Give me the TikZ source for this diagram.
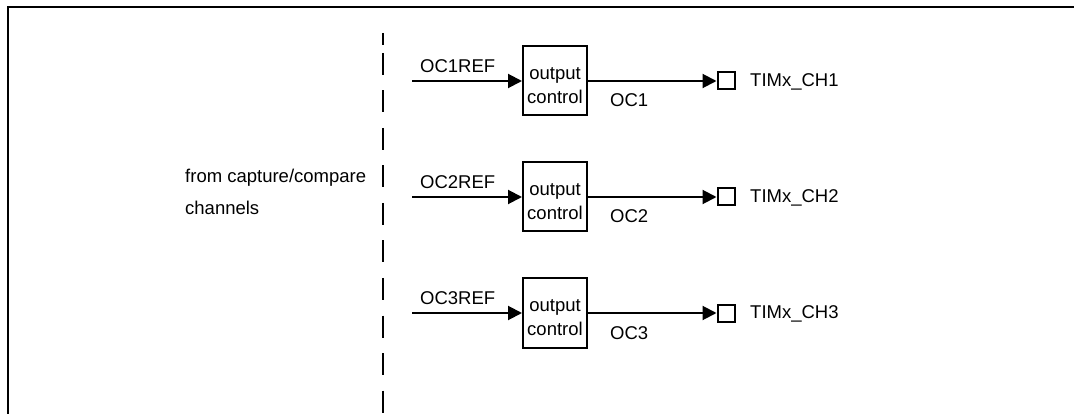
\documentclass[tikz,border=0pt]{standalone}
\usepackage{fontspec}
\setmainfont{Liberation Sans}
\usetikzlibrary{arrows.meta}

\begin{document}
\begin{tikzpicture}[x=1pt, y=-1pt, every node/.style={font=\fontsize{18.5}{24}\selectfont},
  wire/.style={line width=2pt},
  sigarrow/.style={wire,-{Triangle[length=14pt,width=14pt]}},
  ctrlbox/.style={draw,line width=2pt,minimum width=64pt,minimum height=69pt,inner sep=0pt,align=center},
  pinbox/.style={draw,line width=2pt,minimum size=17pt,inner sep=0pt},
  lbl/.style={anchor=base west,inner sep=0pt},
  divider/.style={line width=2.4pt}]
  \useasboundingbox (0,0) rectangle (1074,414);
  % frame and divider
  \draw[line width=2.2pt] (8,414) -- (8,7) -- (1074,7);
  \draw[divider] (383,33) -- (383,45);
  \draw[divider, dash pattern=on 22pt off 15.5pt] (383,53) -- (383,414);
  \node[lbl] (src)  at (185,183) {from capture/compare};
  \node[lbl] (src2) at (185,215) {channels};
  % channel 1
  \coordinate (in1) at (412,81);
  \node[ctrlbox] (ctl1) at (555,81) {\rule{0pt}{21pt}output\\control};
  \node[pinbox]  (ch1)  at (726,81) {};
  \node[lbl] (ref1) at (420,73)   {OC1REF};
  \node[lbl] (oc1)  at (610,107)  {OC1};
  \node[lbl] (tim1) at (750,86.5) {TIMx\_CH1};
  \draw[sigarrow] (in1) -- (ctl1.west);
  \draw[sigarrow] (ctl1.east) -- (ch1.west);
  % channel 2
  \coordinate (in2) at (412,197);
  \node[ctrlbox] (ctl2) at (555,197) {\rule{0pt}{21pt}output\\control};
  \node[pinbox]  (ch2)  at (726,197) {};
  \node[lbl] (ref2) at (420,189)   {OC2REF};
  \node[lbl] (oc2)  at (610,223)   {OC2};
  \node[lbl] (tim2) at (750,202.5) {TIMx\_CH2};
  \draw[sigarrow] (in2) -- (ctl2.west);
  \draw[sigarrow] (ctl2.east) -- (ch2.west);
  % channel 3
  \coordinate (in3) at (412,313);
  \node[ctrlbox] (ctl3) at (555,313) {\rule{0pt}{21pt}output\\control};
  \node[pinbox]  (ch3)  at (726,313) {};
  \node[lbl] (ref3) at (420,305)   {OC3REF};
  \node[lbl] (oc3)  at (610,339)   {OC3};
  \node[lbl] (tim3) at (750,318.5) {TIMx\_CH3};
  \draw[sigarrow] (in3) -- (ctl3.west);
  \draw[sigarrow] (ctl3.east) -- (ch3.west);
\end{tikzpicture}
\end{document}
